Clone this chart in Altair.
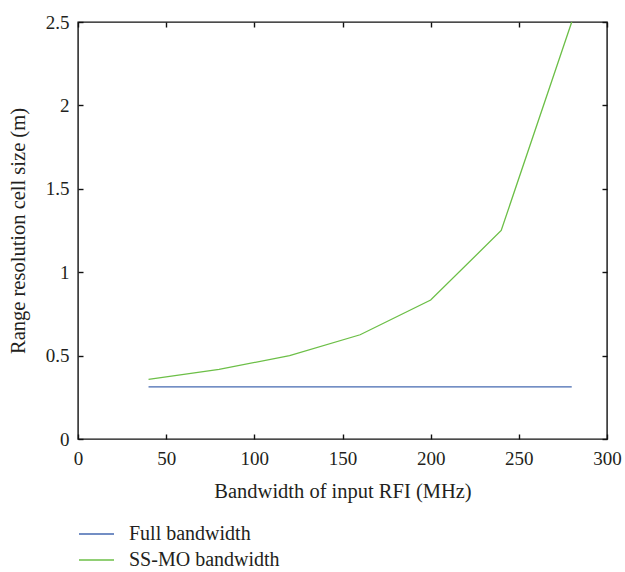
import altair as alt
import pandas as pd

bw = [40, 80, 120, 160, 200, 240, 280]
full_bw = [0.3125, 0.3125, 0.3125, 0.3125, 0.3125, 0.3125, 0.3125]
ssmo_bw = [0.357, 0.417, 0.5, 0.625, 0.833, 1.25, 2.5]
series_names = ["Full bandwidth", "SS-MO bandwidth"]
series_colors = ["#4468b0", "#6cbf47"]
x_ticks = [0, 50, 100, 150, 200, 250, 300]
y_ticks = [0, 0.5, 1, 1.5, 2, 2.5]

rows = []
for name, vals in zip(series_names, [full_bw, ssmo_bw]):
    for x, y in zip(bw, vals):
        rows.append({"bw": x, "val": y, "series": name})
df = pd.DataFrame(rows)

FONT = "Liberation Serif"
TXT = "#231f20"

base = alt.Chart(df)

main = base.mark_line(strokeWidth=1.3).encode(
    x=alt.X("bw:Q", scale=alt.Scale(domain=[0, 300], nice=False),
            axis=alt.Axis(orient="bottom", values=x_ticks, offset=-5, tickSize=5,
                          domain=False, grid=False, labelPadding=10,
                          title="Bandwidth of input RFI (MHz)", titlePadding=13,
                          labelFlush=False)),
    y=alt.Y("val:Q", scale=alt.Scale(domain=[0, 2.5], nice=False),
            axis=alt.Axis(orient="left", values=y_ticks, offset=-5, tickSize=5,
                          domain=False, grid=False, labelPadding=9, format="~g",
                          title="Range resolution cell size (m)", titlePadding=17,
                          labelFlush=False)),
    color=alt.Color("series:N",
                    scale=alt.Scale(domain=series_names, range=series_colors),
                    legend=alt.Legend(orient="none", legendX=0, legendY=500,
                                      title=None, symbolType="stroke",
                                      symbolSize=1225, symbolStrokeWidth=1.3,
                                      clipHeight=24, rowPadding=2,
                                      labelOffset=14, labelFontSize=20,
                                      labelFont=FONT, labelColor=TXT)),
)

mirror = base.mark_line(opacity=0).encode(
    x=alt.X("bw:Q", scale=alt.Scale(domain=[0, 300], nice=False),
            axis=alt.Axis(orient="top", values=x_ticks, offset=-5, tickSize=5,
                          domain=False, grid=False, labels=False, title=None)),
    y=alt.Y("val:Q", scale=alt.Scale(domain=[0, 2.5], nice=False),
            axis=alt.Axis(orient="right", values=y_ticks, offset=-5, tickSize=5,
                          domain=False, grid=False, labels=False, title=None)),
    detail="series:N",
)

chart = alt.layer(main, mirror).resolve_axis(x="independent", y="independent").properties(
    width=529, height=417,
    autosize=alt.AutoSizeParams(type="none"),
    padding={"left": 78, "top": 22, "right": 18, "bottom": 133},
).configure_view(
    stroke="#111111", strokeWidth=1.4
).configure_axis(
    labelFont=FONT, titleFont=FONT, labelFontSize=19, titleFontSize=20.5,
    labelColor=TXT, titleColor=TXT, titleFontWeight="normal",
    tickColor="#111111", tickWidth=1.4
)

chart.save("out.html", embed_options={"renderer": "svg", "actions": False})
